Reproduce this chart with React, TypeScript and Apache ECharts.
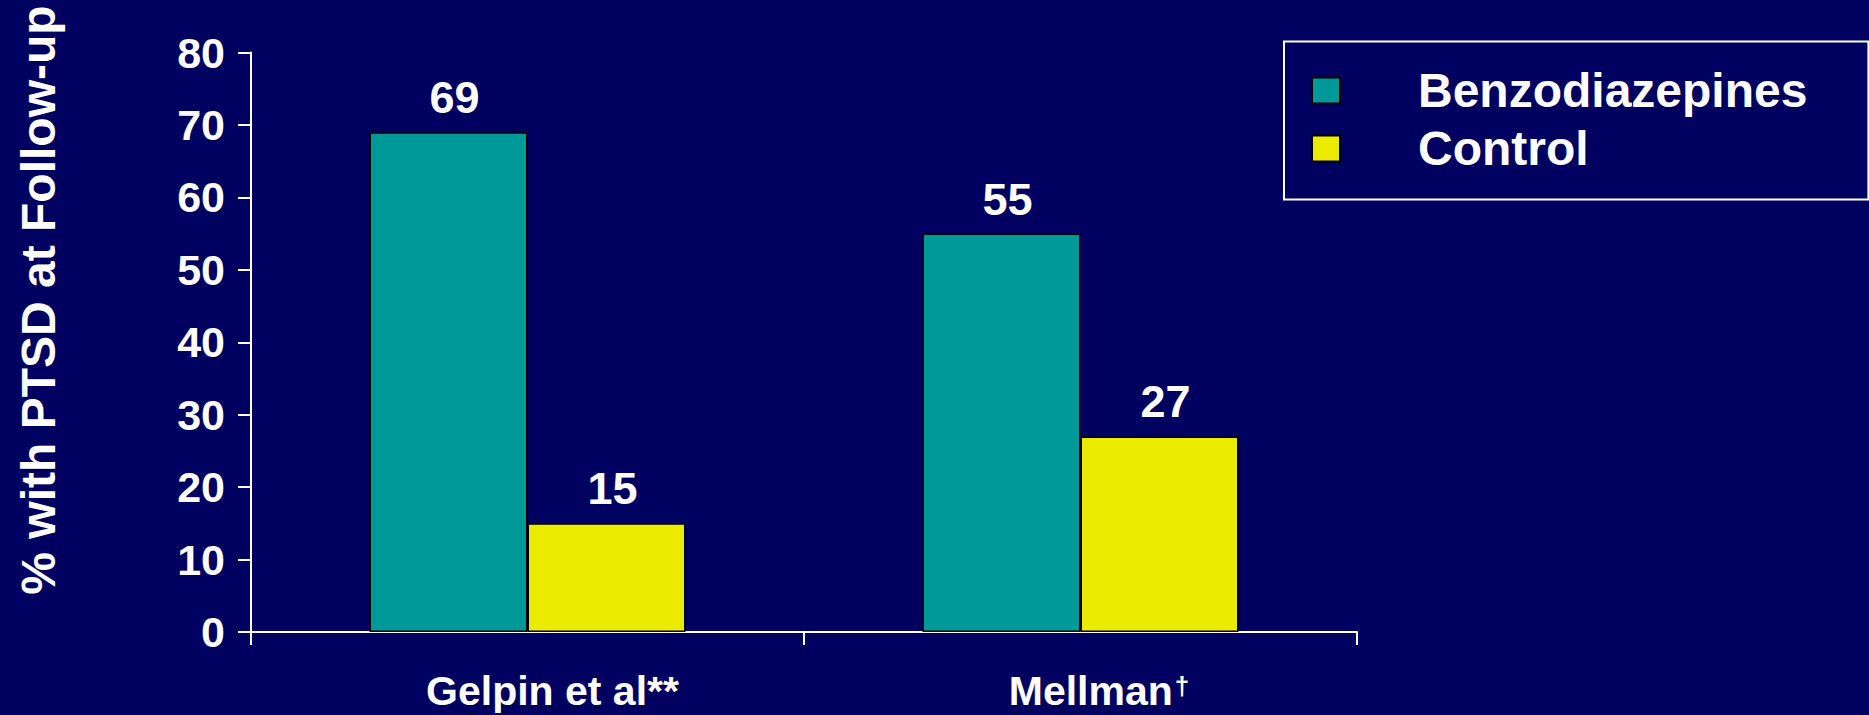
import React, { useEffect, useRef } from "react";
import * as echarts from "echarts";

// Studies on the x axis
const categories: string[] = ["Gelpin et al**", "Mellman†"];
// % with PTSD at follow-up, per group
const benzodiazepines: number[] = [69, 55];
const control: number[] = [15, 27];
const seriesNames: string[] = ["Benzodiazepines", "Control"];
const yTicks = { min: 0, max: 80, interval: 10 };

const FONT = 'Arial, "Liberation Sans", Helvetica, sans-serif';
const BG = "#000060";
const TEAL = "#009999";
const YELLOW = "#EBEB00";

export default function App() {
  const ref = useRef<HTMLDivElement>(null);

  useEffect(() => {
    if (!ref.current) return;
    const chart = echarts.init(ref.current, undefined, { renderer: "svg" });

    const barLabel = {
      show: true,
      position: "top" as const,
      distance: 12,
      color: "#ffffff",
      fontFamily: FONT,
      fontWeight: "bold" as const,
      fontSize: 45,
      lineHeight: 45,
      padding: [0, 0, 0, 12],
    };

    const catText = { color: "#ffffff", fontFamily: FONT, fontWeight: "bold" as const, fontSize: 41 };

    chart.setOption({
      animation: false,
      backgroundColor: BG,
      textStyle: { fontFamily: FONT },
      grid: { left: 251, top: 52.5, right: 512, bottom: 83, containLabel: false },
      legend: {
        orient: "vertical",
        left: 1284,
        top: 41.5,
        padding: [25, 61, 27, 27],
        itemGap: 10,
        itemWidth: 28,
        itemHeight: 26,
        borderColor: "#ffffff",
        borderWidth: 2,
        icon: "rect",
        data: seriesNames,
        textStyle: {
          color: "#ffffff",
          fontFamily: FONT,
          fontWeight: "bold",
          fontSize: 48,
          lineHeight: 48,
          padding: [0, 0, 0, 73],
        },
      },
      xAxis: {
        type: "category",
        data: categories,
        axisLine: { show: true, lineStyle: { color: "#ffffff", width: 2 } },
        axisTick: { show: true, alignWithLabel: false, length: 13, lineStyle: { color: "#ffffff", width: 2 } },
        axisLabel: {
          margin: 38,
          interval: 0,
          // study names sit a little right of the bar pair; the dagger is a superscript
          formatter: (v: string, i: number) =>
            v.endsWith("†") ? `{c${i}|${v.slice(0, -1)}}{s|†}` : `{c${i}|${v}}`,
          rich: {
            c0: { ...catText, lineHeight: 41, padding: [0, 0, 0, 50] },
            c1: { ...catText, lineHeight: 36, padding: [6.5, 0, 0, 37] },
            s: { color: "#ffffff", fontFamily: FONT, fontWeight: "bold", fontSize: 26, lineHeight: 26, verticalAlign: "top", padding: [3, 0, 0, 2] },
          },
        },
        splitLine: { show: false },
      },
      yAxis: {
        type: "value",
        min: yTicks.min,
        max: yTicks.max,
        interval: yTicks.interval,
        axisLine: { show: true, lineStyle: { color: "#ffffff", width: 2 } },
        axisTick: { show: true, length: 13, lineStyle: { color: "#ffffff", width: 2 } },
        axisLabel: {
          margin: 26,
          color: "#ffffff",
          fontFamily: FONT,
          fontWeight: "bold",
          fontSize: 43,
          padding: [15, 0, 0, 0],
        },
        splitLine: { show: false },
      },
      graphic: [
        {
          type: "text",
          x: 38,
          y: 300,
          rotation: Math.PI / 2,
          style: {
            text: "% with PTSD at Follow-up",
            fill: "#ffffff",
            font: `bold 48px ${FONT}`,
            align: "center",
            verticalAlign: "middle",
          },
        },
      ],
      series: [
        {
          name: seriesNames[0],
          type: "bar",
          data: benzodiazepines,
          barWidth: 158,
          barGap: "0%",
          itemStyle: { color: TEAL, borderColor: "#000000", borderWidth: 1.5 },
          label: barLabel,
        },
        {
          name: seriesNames[1],
          type: "bar",
          data: control,
          barWidth: 158,
          barGap: "0%",
          itemStyle: { color: YELLOW, borderColor: "#000000", borderWidth: 1.5 },
          label: barLabel,
        },
      ],
    });

    return () => chart.dispose();
  }, []);

  return (
    <div
      ref={ref}
      style={{ position: "fixed", left: 0, top: 0, width: 1869, height: 715 }}
    />
  );
}
